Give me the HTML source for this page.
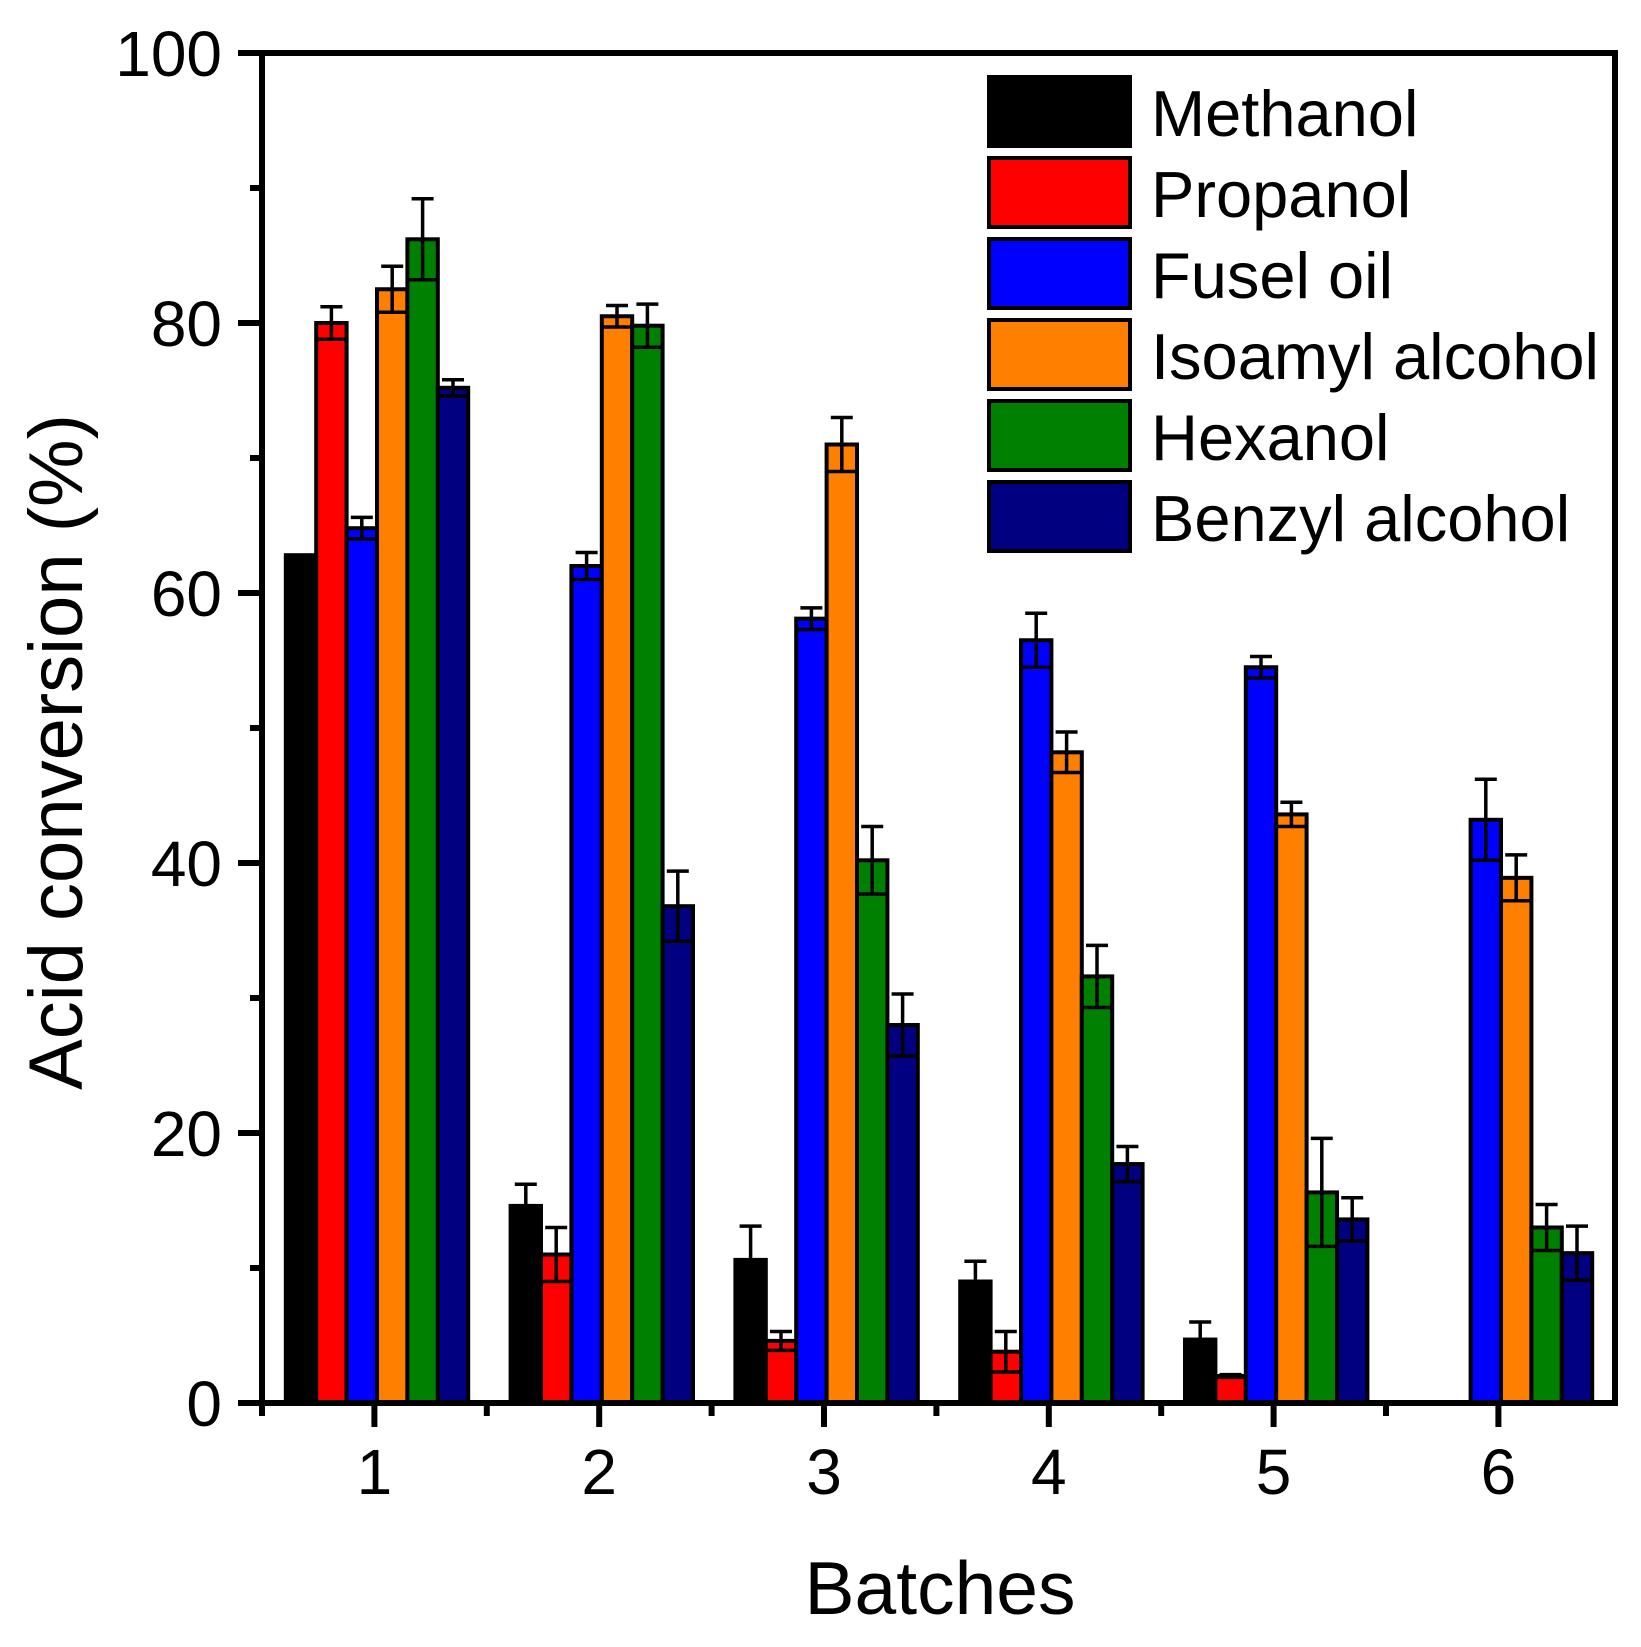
<!DOCTYPE html>
<html><head><meta charset="utf-8"><style>html,body{margin:0;padding:0;background:#fff}svg{display:block}</style></head>
<body>
<svg id="c" width="1641" height="1647" viewBox="0 0 1641 1647" xmlns="http://www.w3.org/2000/svg" font-family="Liberation Sans, Arial, sans-serif">
<rect width="1641" height="1647" fill="#fff"/>
<g id="bars"></g>
<g id="axes"></g>
<g font-size="65">
<rect x="989" y="77" width="141" height="69" fill="#000" stroke="#000" stroke-width="4"/>
<rect x="989" y="158" width="141" height="69" fill="#ff0000" stroke="#000" stroke-width="4"/>
<rect x="989" y="239" width="141" height="69" fill="#0000ff" stroke="#000" stroke-width="4"/>
<rect x="989" y="320" width="141" height="69" fill="#ff8000" stroke="#000" stroke-width="4"/>
<rect x="989" y="401" width="141" height="69" fill="#008000" stroke="#000" stroke-width="4"/>
<rect x="989" y="482" width="141" height="69" fill="#000080" stroke="#000" stroke-width="4"/>
<text x="1151" y="136">Methanol</text>
<text x="1151" y="217">Propanol</text>
<text x="1151" y="298">Fusel oil</text>
<text x="1151" y="379">Isoamyl alcohol</text>
<text x="1151" y="460">Hexanol</text>
<text x="1151" y="541">Benzyl alcohol</text>
</g>
<text x="940" y="1614" font-size="75" text-anchor="middle">Batches</text>
<text transform="translate(82,752) rotate(-90)" font-size="76" text-anchor="middle">Acid conversion (%)</text>
</svg>
<script>
var ns="http://www.w3.org/2000/svg";
function el(p,t,a,txt){var e=document.createElementNS(ns,t);for(var k in a)e.setAttribute(k,a[k]);if(txt!==undefined)e.textContent=txt;p.appendChild(e);return e;}
var Y=function(v){return 1403-v*13.5;};
var cols=["#000","#ff0000","#0000ff","#ff8000","#008000","#000080"];
var data=[
[[62.8,0],[80,1.2],[64.8,0.8],[82.5,1.7],[86.2,3],[75.2,0.6]],
[[14.6,1.6],[11,2],[62,1],[80.5,0.8],[79.8,1.6],[36.8,2.6]],
[[10.6,2.5],[4.6,0.7],[58.1,0.8],[71,2],[40.2,2.5],[28,2.3]],
[[9,1.5],[3.8,1.5],[56.5,2],[48.2,1.5],[31.6,2.3],[17.7,1.3]],
[[4.7,1.3],[2,0.1],[54.5,0.8],[43.6,0.9],[15.6,4],[13.6,1.6]],
[null,null,[43.2,3],[38.9,1.7],[13,1.7],[11.1,2]]
];
var bars=document.getElementById("bars"),ax=document.getElementById("axes");
var bw=30.4;
for(var b=0;b<6;b++){var cx=377+b*224.8;var left=cx-3*bw;
 for(var s=0;s<6;s++){var d=data[b][s];if(!d)continue;var x=left+s*bw,y=Y(d[0]);
  el(bars,"rect",{x:x,y:y,width:bw,height:1403-y,fill:cols[s],stroke:"#000","stroke-width":4});
  if(d[1]>0){var m=x+bw/2,t=Y(d[0]+d[1]),lo=Y(d[0]-d[1]);
   el(bars,"line",{x1:m,x2:m,y1:t,y2:lo,stroke:"#000","stroke-width":3.5});
   el(bars,"line",{x1:m-11,x2:m+11,y1:t,y2:t,stroke:"#000","stroke-width":3.5});
   el(bars,"line",{x1:x,x2:x+bw,y1:lo,y2:lo,stroke:"#000","stroke-width":3.5});
  }}}
el(ax,"rect",{x:262,y:53,width:1353,height:1350,fill:"none",stroke:"#000","stroke-width":6});
for(var v=0;v<=100;v+=10){var y=Y(v);var maj=v%20==0;
 el(ax,"line",{x1:maj?238:250,x2:262,y1:y,y2:y,stroke:"#000","stroke-width":6});
 if(maj)el(ax,"text",{x:222,y:y+23,"font-size":64,"text-anchor":"end"},String(v));}
for(var i=0;i<=11;i++){var x=262+i*112.4;var maj=i%2==1;
 el(ax,"line",{x1:x,x2:x,y1:1403,y2:maj?1427:1416,stroke:"#000","stroke-width":6});
 if(maj)el(ax,"text",{x:x,y:1494,"font-size":64,"text-anchor":"middle"},String((i+1)/2));}
</script>
</body></html>
